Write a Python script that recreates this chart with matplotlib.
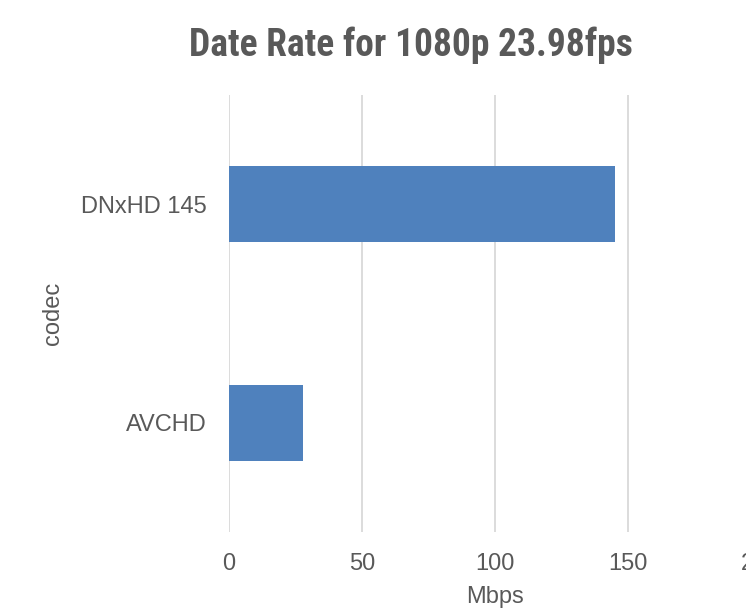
import matplotlib.pyplot as plt
from matplotlib import font_manager

# data
codecs = ["AVCHD", "DNxHD 145"]
rates = [28, 145]
x_ticks = [0, 50, 100, 150, 200]

text_color = "#595959"
bar_color = "#4f81bd"
grid_color = "#d9d9d9"

# prefer a condensed face for the title if one is installed
names = {f.name for f in font_manager.fontManager.ttflist}
title_font, title_size = "Liberation Sans", 23.5
for cand in ["Liberation Sans Narrow", "Roboto Condensed", "Open Sans Condensed",
             "DejaVu Sans Condensed", "Noto Sans Condensed"]:
    if cand in names:
        title_font, title_size = cand, 27
        break

plt.rcParams["font.family"] = ["Liberation Sans", "DejaVu Sans"]

fig = plt.figure(figsize=(7.46, 6.14), dpi=100)
ax = fig.add_axes([229 / 746, 1 - 532 / 614, (761 - 229) / 746, (532 - 95) / 614])

ax.barh(codecs, rates, height=0.35, color=bar_color, zorder=3)

ax.set_xlim(0, 200)
ax.set_ylim(-0.5, 1.5)
ax.set_xticks(x_ticks)
ax.grid(axis="x", color=grid_color, linewidth=1.3, zorder=0)
for s in ax.spines.values():
    s.set_visible(False)

ax.tick_params(axis="both", length=0, labelsize=17, labelcolor=text_color)
ax.tick_params(axis="x", pad=15)
ax.tick_params(axis="y", pad=16)

ax.set_xlabel("Mbps", fontsize=17, color=text_color, labelpad=8)
ax.set_ylabel("codec", fontsize=17, color=text_color, labelpad=12)

fig.text(411 / 746, 1 - 45 / 614, "Date Rate for 1080p 23.98fps",
         fontsize=title_size, fontweight="bold", color=text_color,
         family=[title_font, "DejaVu Sans"], ha="center", va="center")

fig.savefig("out.png", dpi=100)
